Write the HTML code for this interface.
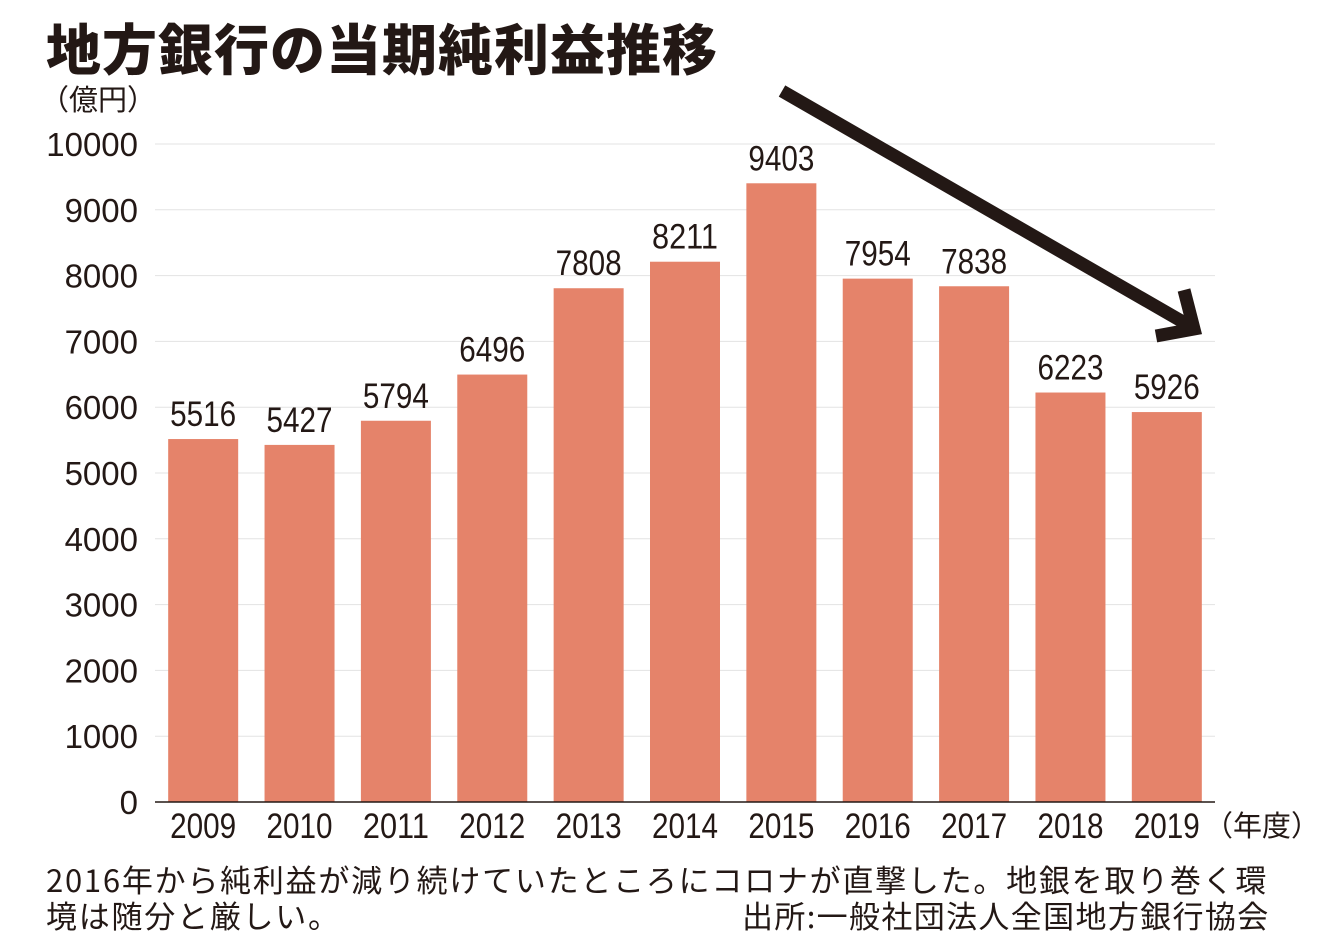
<!DOCTYPE html>
<html><head><meta charset="utf-8"><style>
body{margin:0;background:#fff;width:1340px;height:951px;overflow:hidden;font-family:"Liberation Sans","Noto Sans CJK JP",sans-serif;color:#231815}
#t{position:absolute;left:46px;top:6px;font-size:55px;font-weight:900;letter-spacing:1px;font-family:"Noto Sans CJK JP",sans-serif;white-space:nowrap}
.note{position:absolute;font-size:31px;font-family:"Noto Sans CJK JP",sans-serif;line-height:36px;white-space:nowrap}
</style></head><body>
<div id="t">地方銀行の当期純利益推移</div>
<div class="note" style="left:46px;top:861px;letter-spacing:1.75px">2016年から純利益が減り続けていたところにコロナが直撃した。地銀を取り巻く環<br>境は随分と厳しい。</div>
<div class="note" style="left:742px;top:897px;letter-spacing:1.35px">出所:一般社団法人全国地方銀行協会</div>
<svg id="c" width="1340" height="951" style="position:absolute;left:0;top:0"></svg>
<script>
const years=["2009","2010","2011","2012","2013","2014","2015","2016","2017","2018","2019"];
const profits=[5516,5427,5794,6496,7808,8211,9403,7954,7838,6223,5926];
const yTicks=[0,1000,2000,3000,4000,5000,6000,7000,8000,9000,10000];
const svg=document.getElementById('c');const NS='http://www.w3.org/2000/svg';
const x0=155,x1=1215,y0=802,y1=144;
const band=(x1-x0)/years.length;
const ys=v=>y0-(v/10000)*(y0-y1);
const xc=i=>x0+band*(i+0.5);
function mk(t,a,txt){const e=document.createElementNS(NS,t);for(const k in a)e.setAttribute(k,a[k]);if(txt!=null)e.textContent=txt;svg.appendChild(e);return e;}
yTicks.forEach(v=>{
 if(v>0){const g=mk('line',{x1:x0,x2:x1,y1:ys(v),y2:ys(v),stroke:'#e3e3e3','stroke-width':1});
 
 }
 const t=mk('text',{x:138,y:ys(v)+12,'text-anchor':'end','font-size':33,fill:'#231815','font-family':'Liberation Sans,sans-serif'},String(v));
 
 
});
mk('text',{x:40,y:110,'font-size':29,fill:'#231815','font-family':'Noto Sans CJK JP,sans-serif'},'（億円）');
profits.forEach((v,i)=>{
 const r=mk('rect',{x:xc(i)-35,y:ys(v),width:70,height:y0-ys(v),fill:'#E5836A'});
 
 
 const l=mk('text',{x:xc(i),y:ys(v)-13,'text-anchor':'middle','font-size':35,fill:'#231815','font-family':'Liberation Sans,sans-serif',textLength:66,lengthAdjust:'spacingAndGlyphs'},String(v));
 
 
 const xl=mk('text',{x:xc(i),y:838,'text-anchor':'middle','font-size':35,fill:'#231815','font-family':'Liberation Sans,sans-serif',textLength:66,lengthAdjust:'spacingAndGlyphs'},years[i]);
 
 
});
const ax=mk('line',{x1:x0,x2:x1,y1:y0,y2:y0,stroke:'#231815','stroke-width':1.5});


mk('text',{x:1204,y:836,'font-size':29,fill:'#231815','font-family':'Noto Sans CJK JP,sans-serif'},'（年度）');
const ar=mk('path',{d:'M782 91 L1190 326 M1184 290 L1194 329 L1156 336',stroke:'#231815','stroke-width':13,fill:'none','stroke-linejoin':'miter'});


</script>
</body></html>
